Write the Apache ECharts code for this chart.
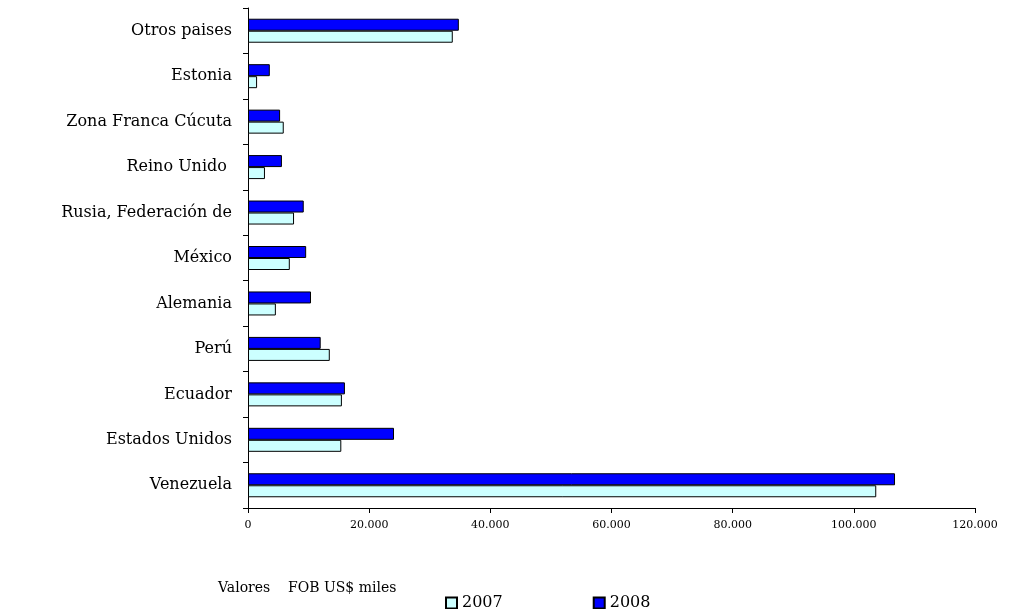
<!DOCTYPE html>
<html><head><meta charset="utf-8">
<script src="https://cdn.jsdelivr.net/npm/echarts@6/dist/echarts.min.js"></script>
<style>html,body{margin:0;background:#fff}#c{width:1013px;height:609px}</style>
</head><body><div id="c"></div>
<script>
const countries = ["Venezuela","Estados Unidos","Ecuador","Perú","Alemania","México","Rusia, Federación de","Reino Unido ","Zona Franca Cúcuta","Estonia","Otros paises"];
const v2007 = [103700,15400,15500,13500,4600,6900,7600,2800,5900,1500,33800];
const v2008 = [106800,24100,16000,12000,10400,9600,9200,5600,5300,3600,34800];
const xTicks = [0,20000,40000,60000,80000,100000,120000];

const font = "'DejaVu Serif', serif";
const chart = echarts.init(document.getElementById("c"));
chart.setOption({
  animation: false,
  grid: {left: 248, right: 38, top: 8, bottom: 101},
  xAxis: {
    type: "value", min: 0, max: 120000, interval: 20000,
    axisLine: {show: true, lineStyle: {color: "#000"}},
    axisTick: {show: true, length: 5, lineStyle: {color: "#000"}},
    splitLine: {show: false},
    axisLabel: {color: "#000", fontFamily: font, fontSize: 11, margin: 12,
      formatter: v => xTicks.includes(v) ? (v === 0 ? "0" : (v/1000).toFixed(0) + ".000") : ""}
  },
  yAxis: {
    type: "category", data: countries,
    axisLine: {show: true, lineStyle: {color: "#000"}},
    axisTick: {show: true, length: 5, lineStyle: {color: "#000"}},
    axisLabel: {color: "#000", fontFamily: font, fontSize: 16, margin: 16}
  },
  legend: {
    left: 440, top: 590, itemWidth: 11, itemHeight: 11, itemGap: 90, icon: "rect",
    textStyle: {fontFamily: font, fontSize: 16, color: "#000"},
    data: ["2007","2008"]
  },
  graphic: [{type: "text", left: 218, top: 581,
    style: {text: "Valores    FOB US$ miles", font: "14px " + font, fill: "#000"}}],
  series: [
    {name: "2008", type: "bar", data: v2008, barWidth: 12, barGap: "0%",
     itemStyle: {color: "#0000ff", borderColor: "#000", borderWidth: 1}},
    {name: "2007", type: "bar", data: v2007, barWidth: 12,
     itemStyle: {color: "#ccffff", borderColor: "#000", borderWidth: 1}}
  ]
});
</script></body></html>
